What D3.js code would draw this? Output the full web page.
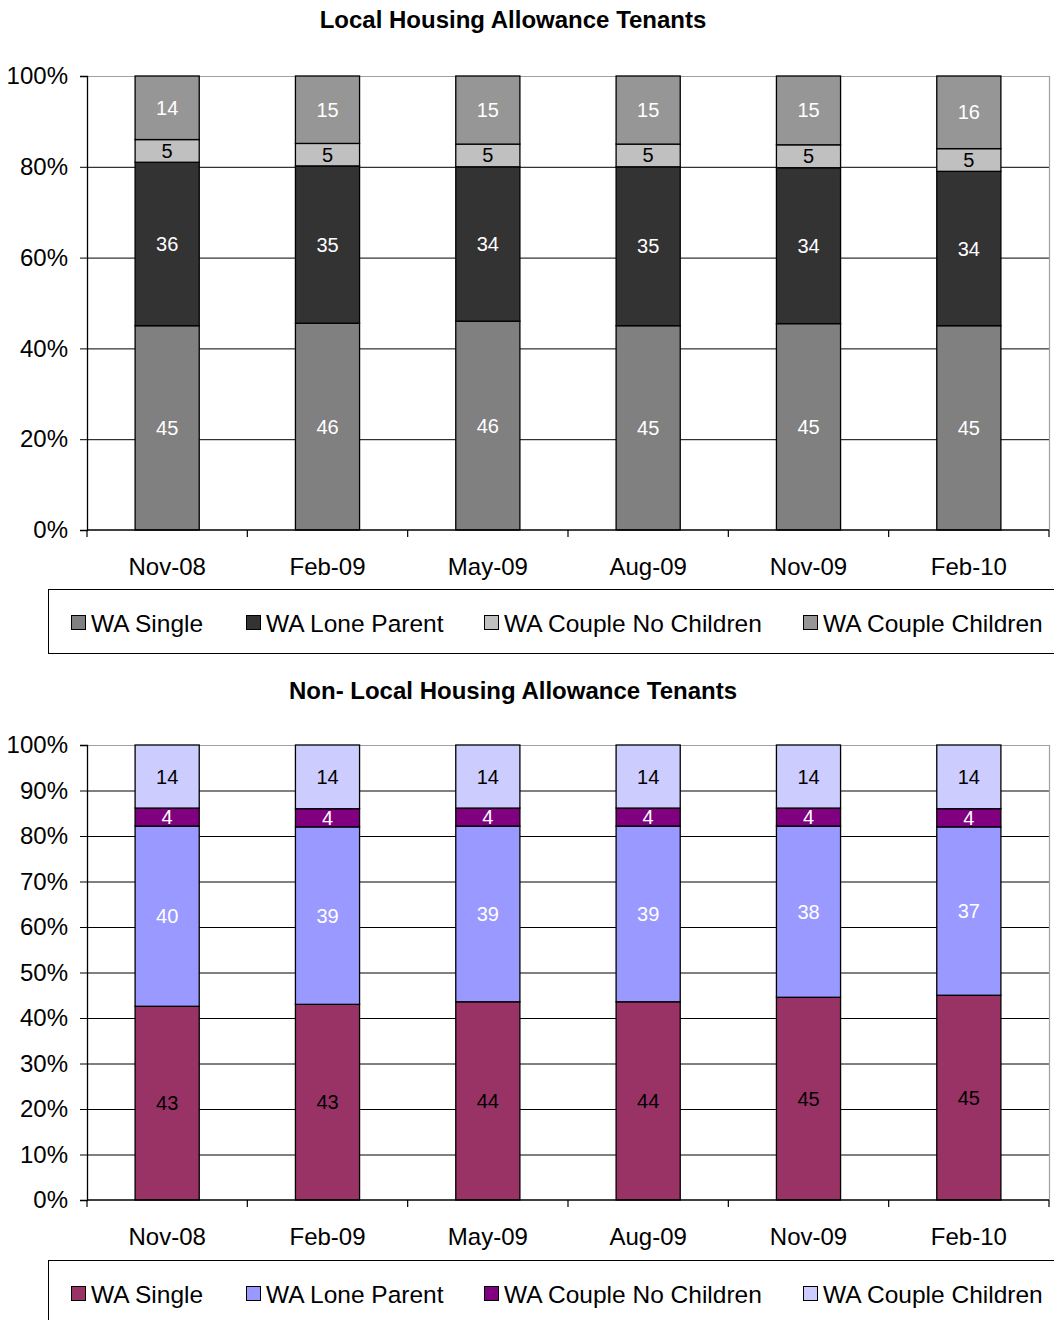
<!DOCTYPE html>
<html>
<head>
<meta charset="utf-8">
<script src="https://cdn.jsdelivr.net/npm/d3@7"></script>
<style>
  html, body { margin: 0; padding: 0; background: #fff; }
  svg { display: block; font-family: "Liberation Sans", Arial, sans-serif; }
</style>
</head>
<body>
<svg id="chart" width="1054" height="1320"></svg>
<script>
// Survey months shown on the x axis
const months = ["Nov-08", "Feb-09", "May-09", "Aug-09", "Nov-09", "Feb-10"];
const seriesNames = ["WA Single", "WA Lone Parent", "WA Couple No Children", "WA Couple Children"];

// Local Housing Allowance tenants (% share)
const lhaSingle = [45, 46, 46, 45, 45, 45];
const lhaLoneParent = [36, 35, 34, 35, 34, 34];
const lhaCoupleNoChildren = [5, 5, 5, 5, 5, 5];
const lhaCoupleChildren = [14, 15, 15, 15, 15, 16];

// Non-LHA tenants (% share)
const nonSingle = [43, 43, 44, 44, 45, 45];
const nonLoneParent = [40, 39, 39, 39, 38, 37];
const nonCoupleNoChildren = [4, 4, 4, 4, 4, 4];
const nonCoupleChildren = [14, 14, 14, 14, 14, 14];

// Y axis tick values
const lhaTicks = [0, 0.2, 0.4, 0.6, 0.8, 1];
const nonTicks = [0, 0.1, 0.2, 0.3, 0.4, 0.5, 0.6, 0.7, 0.8, 0.9, 1];

const svg = d3.select("#chart");

function buildRows(cols) {
  return months.map((m, i) => {
    const row = { month: m };
    seriesNames.forEach((s, k) => { row[s] = cols[k][i]; });
    return row;
  });
}

function drawPanel(opts) {
  const { title, titleY, top, bottom, rows, ticks, colors, labelColors, legendTop } = opts;
  const left = 87, right = 1049;
  const g = svg.append("g");

  g.append("text")
    .attr("x", 513).attr("y", titleY)
    .attr("text-anchor", "middle")
    .attr("dominant-baseline", "central")
    .style("font-size", "24px").style("font-weight", "bold")
    .text(title);

  const x = d3.scaleBand().domain(months).range([left, right]).paddingInner(0).paddingOuter(0);
  const y = d3.scaleLinear().domain([0, 1]).range([bottom, top]);

  // Gridlines
  g.append("g").selectAll("line")
    .data(ticks.filter(t => t > 0 && t < 1))
    .join("line")
    .attr("x1", left).attr("x2", right)
    .attr("y1", d => y(d) + 0.5).attr("y2", d => y(d) + 0.5)
    .attr("stroke", "#000").attr("stroke-width", 1);

  // Plot area border
  g.append("path")
    .attr("d", `M${left},${top + 0.5}H${right + 0.5}V${bottom}`)
    .attr("fill", "none").attr("stroke", "#a0a0a0").attr("stroke-width", 1.2);

  // Stacked 100% bars
  const stack = d3.stack().keys(seriesNames).offset(d3.stackOffsetExpand);
  const layers = stack(rows);
  const barW = x.bandwidth() * 0.4;

  layers.forEach((layer, k) => {
    const lg = g.append("g");
    lg.selectAll("rect")
      .data(layer)
      .join("rect")
      .attr("x", d => x(d.data.month) + (x.bandwidth() - barW) / 2)
      .attr("width", barW)
      .attr("y", d => y(d[1]))
      .attr("height", d => y(d[0]) - y(d[1]))
      .attr("fill", colors[k])
      .attr("stroke", "#000").attr("stroke-width", 1.3);
  });

  layers.forEach((layer, k) => {
    g.append("g").selectAll("text")
      .data(layer)
      .join("text")
      .attr("x", d => x(d.data.month) + x.bandwidth() / 2)
      .attr("y", d => (y(d[0]) + y(d[1])) / 2)
      .attr("text-anchor", "middle")
      .attr("dominant-baseline", "central")
      .style("font-size", "20px")
      .attr("fill", labelColors[k])
      .text(d => d.data[layer.key]);
  });

  // Y axis
  const yAxis = d3.axisLeft(y).tickValues(ticks).tickFormat(d3.format(".0%")).tickSize(7).tickPadding(12);
  const ya = g.append("g").attr("transform", `translate(${left},0)`).call(yAxis);
  ya.attr("font-family", null).attr("font-size", null);
  ya.select(".domain").attr("stroke", "#000").attr("stroke-width", 1.3);
  ya.selectAll(".tick line").attr("stroke", "#000");
  ya.selectAll(".tick text").style("font-size", "24px").attr("fill", "#000");

  // X axis with ticks at band boundaries
  const xa = g.append("g").attr("transform", `translate(0,${bottom})`);
  xa.append("line").attr("x1", left).attr("x2", right).attr("stroke", "#000").attr("stroke-width", 1.3);
  const bounds = months.map(m => x(m)).concat([right]);
  xa.selectAll("line.tk").data(bounds).join("line").attr("class", "tk")
    .attr("x1", d => d).attr("x2", d => d).attr("y1", 0).attr("y2", 7)
    .attr("stroke", "#000").attr("stroke-width", 1.2);
  xa.selectAll("text").data(months).join("text")
    .attr("x", d => x(d) + x.bandwidth() / 2)
    .attr("y", 36)
    .attr("text-anchor", "middle")
    .attr("dominant-baseline", "central")
    .style("font-size", "24px")
    .text(d => d);

  // Legend
  const leg = g.append("g");
  leg.append("rect")
    .attr("x", 48.5).attr("y", legendTop + 0.5)
    .attr("width", 1020).attr("height", 64)
    .attr("fill", "#fff").attr("stroke", "#000").attr("stroke-width", 1);
  const itemX = [71, 246, 484, 803];
  seriesNames.forEach((s, k) => {
    const cy = legendTop + 34;
    leg.append("rect")
      .attr("x", itemX[k] + 0.5).attr("y", cy - 7.5)
      .attr("width", 14).attr("height", 14)
      .attr("fill", colors[k]).attr("stroke", "#000").attr("stroke-width", 1);
    leg.append("text")
      .attr("x", itemX[k] + 20).attr("y", cy)
      .attr("dominant-baseline", "central")
      .style("font-size", "24.5px")
      .text(s);
  });
}

drawPanel({
  title: "Local Housing Allowance Tenants",
  titleY: 19,
  top: 76, bottom: 530,
  rows: buildRows([lhaSingle, lhaLoneParent, lhaCoupleNoChildren, lhaCoupleChildren]),
  ticks: lhaTicks,
  colors: ["#808080", "#333333", "#c0c0c0", "#969696"],
  labelColors: ["#fff", "#fff", "#000", "#fff"],
  legendTop: 589
});

drawPanel({
  title: "Non- Local Housing Allowance Tenants",
  titleY: 690,
  top: 745, bottom: 1200,
  rows: buildRows([nonSingle, nonLoneParent, nonCoupleNoChildren, nonCoupleChildren]),
  ticks: nonTicks,
  colors: ["#993366", "#9999ff", "#800080", "#ccccff"],
  labelColors: ["#000", "#fff", "#fff", "#000"],
  legendTop: 1260
});
</script>
</body>
</html>
